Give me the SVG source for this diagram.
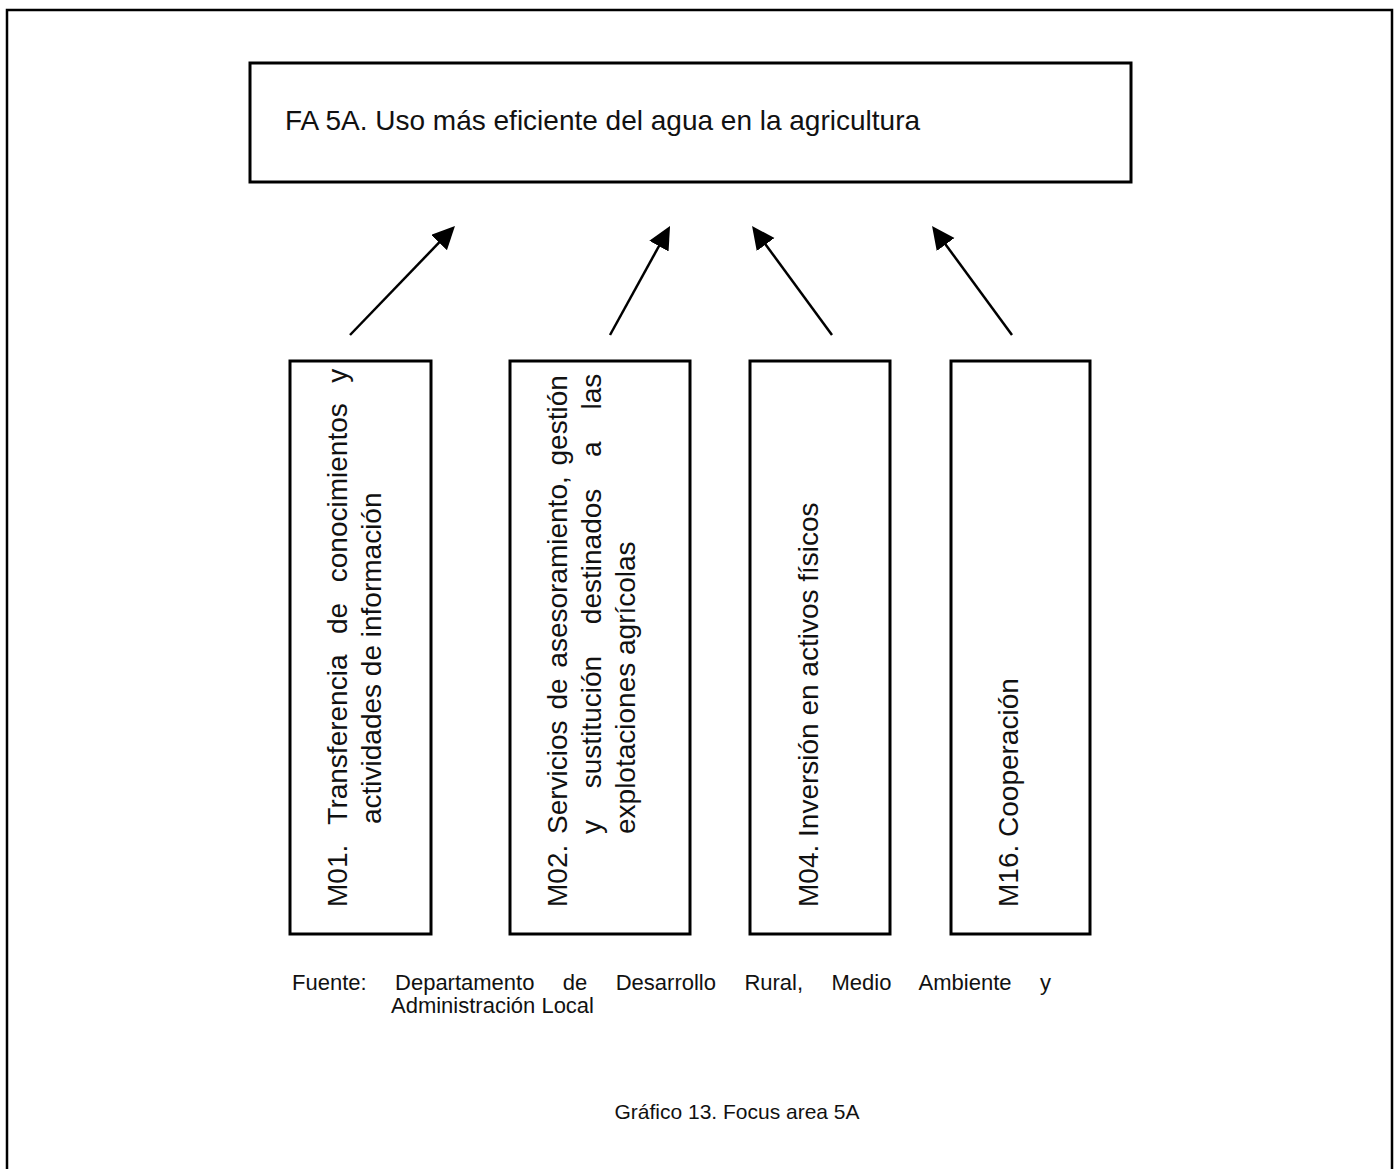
<svg xmlns="http://www.w3.org/2000/svg" width="1394" height="1169" viewBox="0 0 1394 1169">
<style>
  .box { fill: #ffffff; stroke: #000000; stroke-width: 3; }
  .frame { fill: none; stroke: #000000; stroke-width: 2.5; }
  .t { font-family: "Liberation Sans", Arial, sans-serif; fill: #111111; }
  .big { font-size: 28px; }
  .foot { font-size: 22px; }
  .cap { font-size: 21px; }
  .conn { stroke: #000000; stroke-width: 2.5; fill: none; marker-end: url(#ah); }
</style>
<defs>
  <marker id="ah" markerUnits="userSpaceOnUse" markerWidth="25" markerHeight="23" viewBox="0 0 25 23" refX="19" refY="11" orient="auto">
    <path d="M0,0 L23,11 L0,22 z" fill="#000000"/>
  </marker>
</defs>
<rect x="0" y="0" width="1394" height="1169" fill="#ffffff"/>
<path class="frame" d="M7,1175 V10 H1392 V1175"/>

<g id="fa5a">
  <rect class="box" x="250" y="63" width="881" height="119"/>
  <text class="t big" x="285" y="130">FA 5A. Uso más eficiente del agua en la agricultura</text>
</g>

<g id="m01">
  <rect class="box" x="290" y="361" width="141" height="573"/>
  <text class="t big" transform="translate(347,907) rotate(-90)" word-spacing="12.8">M01. Transferencia de conocimientos y</text>
  <text class="t big" transform="translate(381,907) rotate(-90)" x="83">actividades de información</text>
</g>

<g id="m02">
  <rect class="box" x="510" y="361" width="180" height="573"/>
  <text class="t big" transform="translate(567,907) rotate(-90)" word-spacing="3">M02. Servicios de asesoramiento, gestión</text>
  <text class="t big" transform="translate(601,907) rotate(-90)" x="73" word-spacing="24">y sustitución destinados a las</text>
  <text class="t big" transform="translate(635,907) rotate(-90)" x="73">explotaciones agrícolas</text>
</g>

<g id="m04">
  <rect class="box" x="750" y="361" width="140" height="573"/>
  <text class="t big" transform="translate(818,907) rotate(-90)">M04. Inversión en activos físicos</text>
</g>

<g id="m16">
  <rect class="box" x="951" y="361" width="139" height="573"/>
  <text class="t big" transform="translate(1018,907) rotate(-90)">M16. Cooperación</text>
</g>

<g id="connectors">
  <line class="conn" x1="350" y1="335" x2="452.2" y2="228.9"/>
  <line class="conn" x1="610" y1="335" x2="668.1" y2="229.5"/>
  <line class="conn" x1="832" y1="335" x2="754.4" y2="229.2"/>
  <line class="conn" x1="1012" y1="335" x2="934.4" y2="229.2"/>
</g>

<g id="source">
  <text class="t foot" x="292" y="990" word-spacing="22.3">Fuente: Departamento de Desarrollo Rural, Medio Ambiente y</text>
  <text class="t foot" x="391" y="1013">Administración Local</text>
</g>

<text class="t cap" x="737" y="1119" text-anchor="middle">Gráfico 13. Focus area 5A</text>
</svg>
